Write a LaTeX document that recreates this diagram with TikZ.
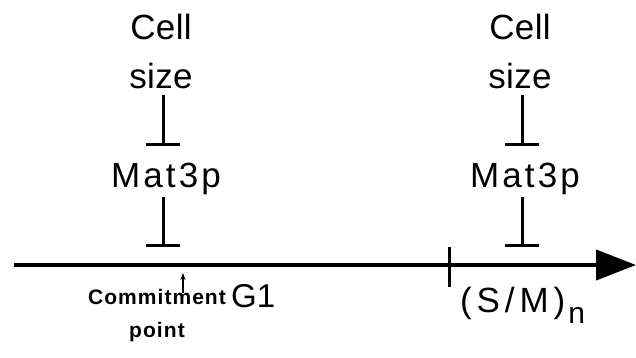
\documentclass[tikz,border=0pt]{standalone}
\usepackage{fontspec}
\setmainfont{Liberation Sans}
\usetikzlibrary{arrows.meta}
\begin{document}
\begin{tikzpicture}[x=1pt,y=-1pt,
  big/.style={font={\fontsize{35}{49}\selectfont\addfontfeature{LetterSpace=#1}}, inner sep=0pt, align=center},
  big/.default=2,
  small/.style={font={\bfseries\fontsize{21}{33}\selectfont\addfontfeature{LetterSpace=5}}, inner sep=0pt, align=center},
  inhib/.style={line width=3pt, -{Bar[width=34pt]}},
  axisline/.style={line width=4pt, -{Triangle[length=40pt,width=30pt]}},
  tickline/.style={line width=3pt},
  smallarrow/.style={line width=1.2pt, -{Stealth[length=7pt,width=5pt]}}
]
\useasboundingbox (0,0) rectangle (636,358);
% axis
\coordinate (start) at (14,265);
\coordinate (end) at (636,265);
\draw[axisline] (start) -- (end);
% left column
\node[big=1] (cell1) at (161,51) {Cell\\size};
\node[big=9, anchor=base] (mat1) at (166,187) {Mat3p};
\coordinate (ax1) at (163,265);
\coordinate (cs1) at (163,88);
\draw[inhib, shorten <=7pt, shorten >=16pt] (cs1) -- (cs1 |- mat1.north);
\draw[inhib, shorten <=3pt, shorten >=18pt] (cs1 |- mat1.south) -- (ax1);
% right column
\node[big=1] (cell2) at (520,51) {Cell\\size};
\node[big=9, anchor=base] (mat2) at (525,187) {Mat3p};
\coordinate (ax2) at (522,265);
\coordinate (cs2) at (522,88);
\draw[inhib, shorten <=7pt, shorten >=16pt] (cs2) -- (cs2 |- mat2.north);
\draw[inhib, shorten <=3pt, shorten >=18pt] (cs2 |- mat2.south) -- (ax2);
% tick
\coordinate (t1) at (449,247);
\coordinate (t2) at (449,287);
\draw[tickline] (t1) -- (t2);
% commitment point
\coordinate (ca1) at (183,293);
\coordinate (ca2) at (183,273);
\draw[smallarrow] (ca1) -- (ca2);
\node[small] (commit) at (157,316) {Commitment\\point};
\node[big=1, anchor=base west, font={\fontsize{33}{33}\selectfont}] (g1) at (231,307) {G1};
\node[big=14, anchor=base west] (sm) at (460,312) {(S/M)\hspace{3pt}\raisebox{-11pt}{\fontsize{30}{30}\selectfont\addfontfeature{LetterSpace=0}n}};
\end{tikzpicture}
\end{document}
